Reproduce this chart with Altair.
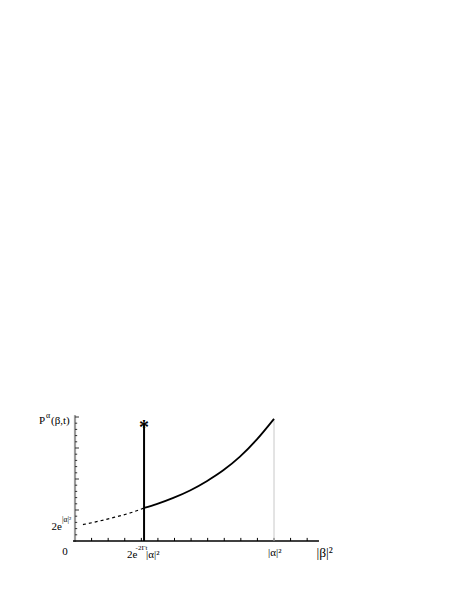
import altair as alt
import pandas as pd

# ---- data ----
curve_x = [0.347, 0.410, 0.494, 0.578, 0.662, 0.745, 0.829, 0.913, 1.0]
curve_y = [1.065, 1.19, 1.39, 1.63, 1.93, 2.28, 2.72, 3.27, 3.94]
dash_x = [0.04, 0.12, 0.20, 0.28, 0.347]
dash_y = [0.53, 0.64, 0.77, 0.91, 1.065]
jump_x = 0.347
jump_top = 3.74
alpha_x = 1.0
alpha_top = 3.94
yaxis_top = 4.06
xaxis_end = 1.226
xtick_vals = [k / 12 for k in range(1, 15)]
ytick_minor = [round(0.2 * k, 2) for k in range(1, 21) if k % 5 != 0]
ytick_major = [1, 2, 3, 4]

# ---- scales: x unit = 199 px, y unit = 31 px, origin at (75, 541) on page ----
W, H = 455, 593
ox, oy = 75 - 8, 541 - 8
xu, yu = 199.0, 31.0
xs = alt.Scale(domain=[-ox / xu, (W - ox) / xu], nice=False, zero=False)
ys = alt.Scale(domain=[-(H - oy) / yu, oy / yu], nice=False, zero=False)


def X(f="x"):
    return alt.X(f"{f}:Q", scale=xs, axis=None)


def Y(f="y"):
    return alt.Y(f"{f}:Q", scale=ys, axis=None)


layers = []

# y axis line (grey)
layers.append(alt.Chart(pd.DataFrame({"x": [0], "y": [-0.03], "y2": [yaxis_top]}))
              .mark_rule(color="#9a9a9a", strokeWidth=2.2)
              .encode(x=X(), y=Y(), y2="y2"))
# y ticks
layers.append(alt.Chart(pd.DataFrame({"x": [0.0] * len(ytick_minor), "x2": [0.011] * len(ytick_minor), "y": ytick_minor}))
              .mark_rule(color="#333333", strokeWidth=1)
              .encode(x=X(), x2="x2", y=Y()))
layers.append(alt.Chart(pd.DataFrame({"x": [0.0] * len(ytick_major), "x2": [0.02] * len(ytick_major), "y": ytick_major}))
              .mark_rule(color="#333333", strokeWidth=1)
              .encode(x=X(), x2="x2", y=Y()))
# x axis line
layers.append(alt.Chart(pd.DataFrame({"x": [-0.01], "x2": [xaxis_end], "y": [0]}))
              .mark_rule(color="black", strokeWidth=1.6)
              .encode(x=X(), x2="x2", y=Y()))
# x ticks
layers.append(alt.Chart(pd.DataFrame({"x": xtick_vals, "y": [0.0] * len(xtick_vals), "y2": [0.1] * len(xtick_vals)}))
              .mark_rule(color="black", strokeWidth=1)
              .encode(x=X(), y=Y(), y2="y2"))
# thin grey line at |alpha|^2
layers.append(alt.Chart(pd.DataFrame({"x": [alpha_x], "y": [0], "y2": [alpha_top]}))
              .mark_rule(color="#c8c8c8", strokeWidth=1)
              .encode(x=X(), y=Y(), y2="y2"))
# vertical jump line
layers.append(alt.Chart(pd.DataFrame({"x": [jump_x], "y": [0], "y2": [jump_top]}))
              .mark_rule(color="black", strokeWidth=2)
              .encode(x=X(), y=Y(), y2="y2"))
# solid curve
layers.append(alt.Chart(pd.DataFrame({"x": curve_x, "y": curve_y}))
              .mark_line(color="black", strokeWidth=1.8, interpolate="monotone")
              .encode(x=X(), y=Y()))
# dashed curve
layers.append(alt.Chart(pd.DataFrame({"x": dash_x, "y": dash_y}))
              .mark_line(color="black", strokeWidth=1.2, strokeDash=[3, 3], interpolate="monotone")
              .encode(x=X(), y=Y()))

FONT = "Times New Roman, Liberation Serif, serif"


def txt(x, y, s, dx, dy, size, align="left", weight="normal"):
    return (alt.Chart(pd.DataFrame({"x": [x], "y": [y], "t": [s]}))
            .mark_text(font=FONT, fontSize=size, align=align, baseline="alphabetic",
                       dx=dx, dy=dy, color="black", fontWeight=weight)
            .encode(x=X(), y=Y(), text="t:N"))


# star on top of the jump
layers.append(txt(jump_x, jump_top, "*", 0, 9, 20, align="center", weight="bold"))
# y label P^alpha(beta,t)
layers.append(txt(0, yaxis_top, "P", -36, 9, 11))
layers.append(txt(0, yaxis_top, "α", -29, 3, 8))
layers.append(txt(0, yaxis_top, "(β,t)", -24, 9, 11))
# 2e^{|alpha|^2}
layers.append(txt(0, 0, "2e", -23.5, -11, 11))
layers.append(txt(0, 0, "|α|²", -13, -19, 7.5))
# 0
layers.append(txt(0, 0, "0", -10, 14, 11, align="center"))
# x labels
layers.append(txt(jump_x, 0, "2e", -17, 17, 11))
layers.append(txt(jump_x, 0, "-2Γt", -8.5, 9, 7))
layers.append(txt(jump_x, 0, "|α|²", 2, 17, 11))
layers.append(txt(alpha_x, 0, "|α|²", -6, 15, 11))
layers.append(txt(alpha_x, 0, "|β|²", 42.5, 15.5, 13.5))

chart = alt.layer(*layers).properties(
    width=W, height=H, padding=0, autosize=alt.AutoSizeParams(type="none")
).configure_view(stroke=None)

chart.save("out.html", embed_options={"renderer": "svg", "actions": False})
